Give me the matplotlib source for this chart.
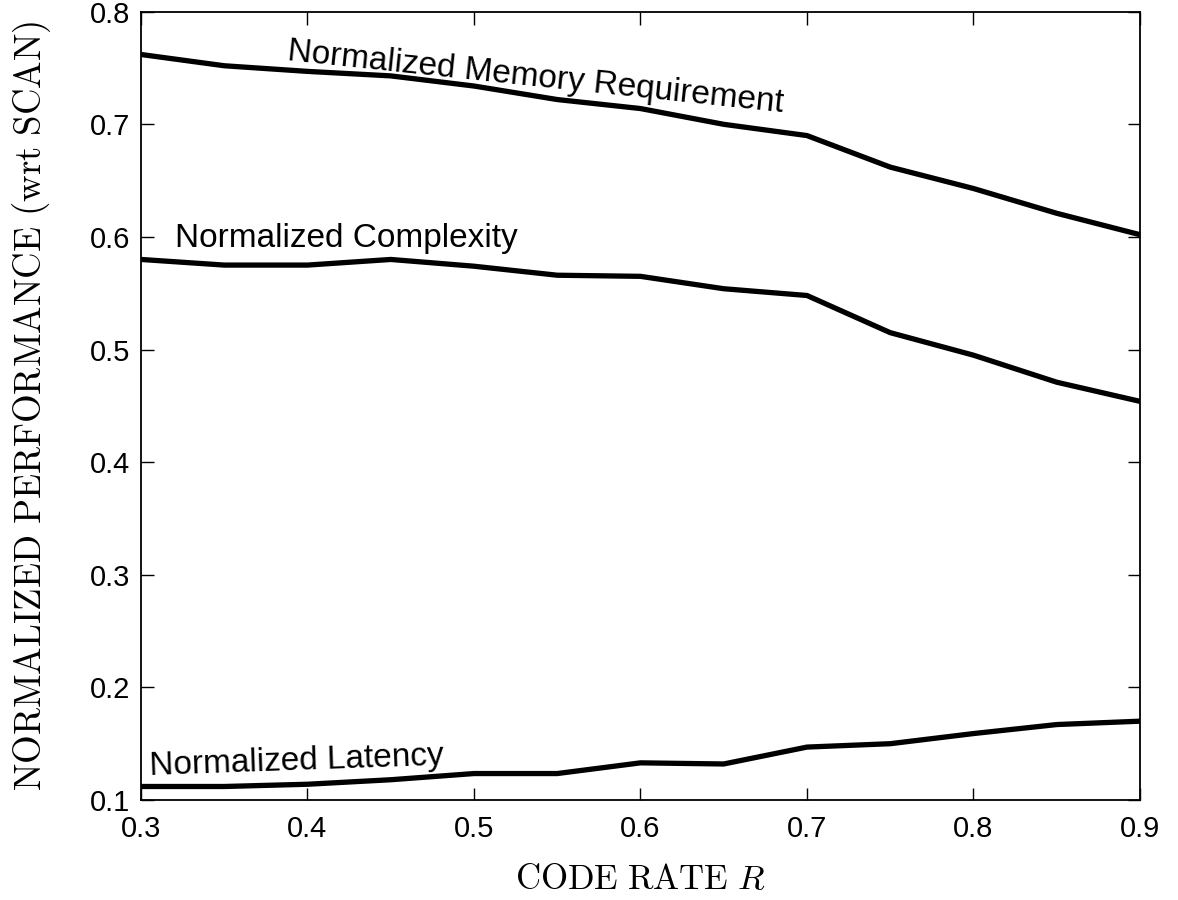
import numpy as np
import matplotlib
matplotlib.use("Agg")
import matplotlib.pyplot as plt

plt.rcParams['font.family'] = ['Liberation Sans', 'DejaVu Sans']
plt.rcParams['mathtext.fontset'] = 'cm'

code_rate = [0.3, 0.35, 0.4, 0.45, 0.5, 0.55, 0.6, 0.65, 0.7, 0.75, 0.8, 0.85, 0.9]
memory = [0.762, 0.752, 0.747, 0.743, 0.734, 0.722, 0.714, 0.700, 0.690, 0.662, 0.643, 0.621, 0.602]
complexity = [0.580, 0.575, 0.575, 0.580, 0.574, 0.566, 0.565, 0.554, 0.548, 0.515, 0.495, 0.471, 0.454]
latency = [0.112, 0.112, 0.114, 0.118, 0.1235, 0.1235, 0.133, 0.132, 0.147, 0.150, 0.159, 0.167, 0.170]

fig = plt.figure(figsize=(11.78, 9), dpi=100)
ax = fig.add_axes([0.1197, 0.1111, 0.8480, 0.8759])

for y in (memory, complexity, latency):
    ax.plot(code_rate, y, color='black', linewidth=3.8, solid_joinstyle='miter')

ax.set_xlim(0.3, 0.9)
ax.set_ylim(0.1, 0.8)
ax.set_xticks(np.arange(0.3, 0.91, 0.1))
ax.set_yticks(np.arange(0.1, 0.81, 0.1))
ax.set_xticklabels(['0.3', '0.4', '0.5', '0.6', '0.7', '0.8', '0.9'])
ax.set_yticklabels(['0.1', '0.2', '0.3', '0.4', '0.5', '0.6', '0.7', '0.8'])
ax.tick_params(direction='in', length=9, width=1, labelsize=21,
               top=True, right=True)
ax.tick_params(axis='x', pad=11)
ax.tick_params(axis='y', pad=8)
for s in ax.spines.values():
    s.set_linewidth(1.3)

# curve labels
ax.text(0.3877, 0.757, 'Normalized Memory Requirement', fontsize=24,
        rotation=-6, rotation_mode='anchor', ha='left', va='baseline')
ax.text(0.3204, 0.5915, 'Normalized Complexity', fontsize=24,
        ha='left', va='baseline')
ax.text(0.3054, 0.122, 'Normalized Latency', fontsize=24,
        rotation=2, rotation_mode='anchor', ha='left', va='baseline')

ax.set_xlabel(r'$\mathrm{CODE\ RATE}\ R$', fontsize=25, labelpad=14)
ax.set_ylabel(r'$\mathrm{NORMALIZED\ PERFORMANCE\ (wrt\ SCAN)}$', fontsize=26.5, labelpad=26)

fig.savefig('out.png', dpi=100)
plt.close(fig)
